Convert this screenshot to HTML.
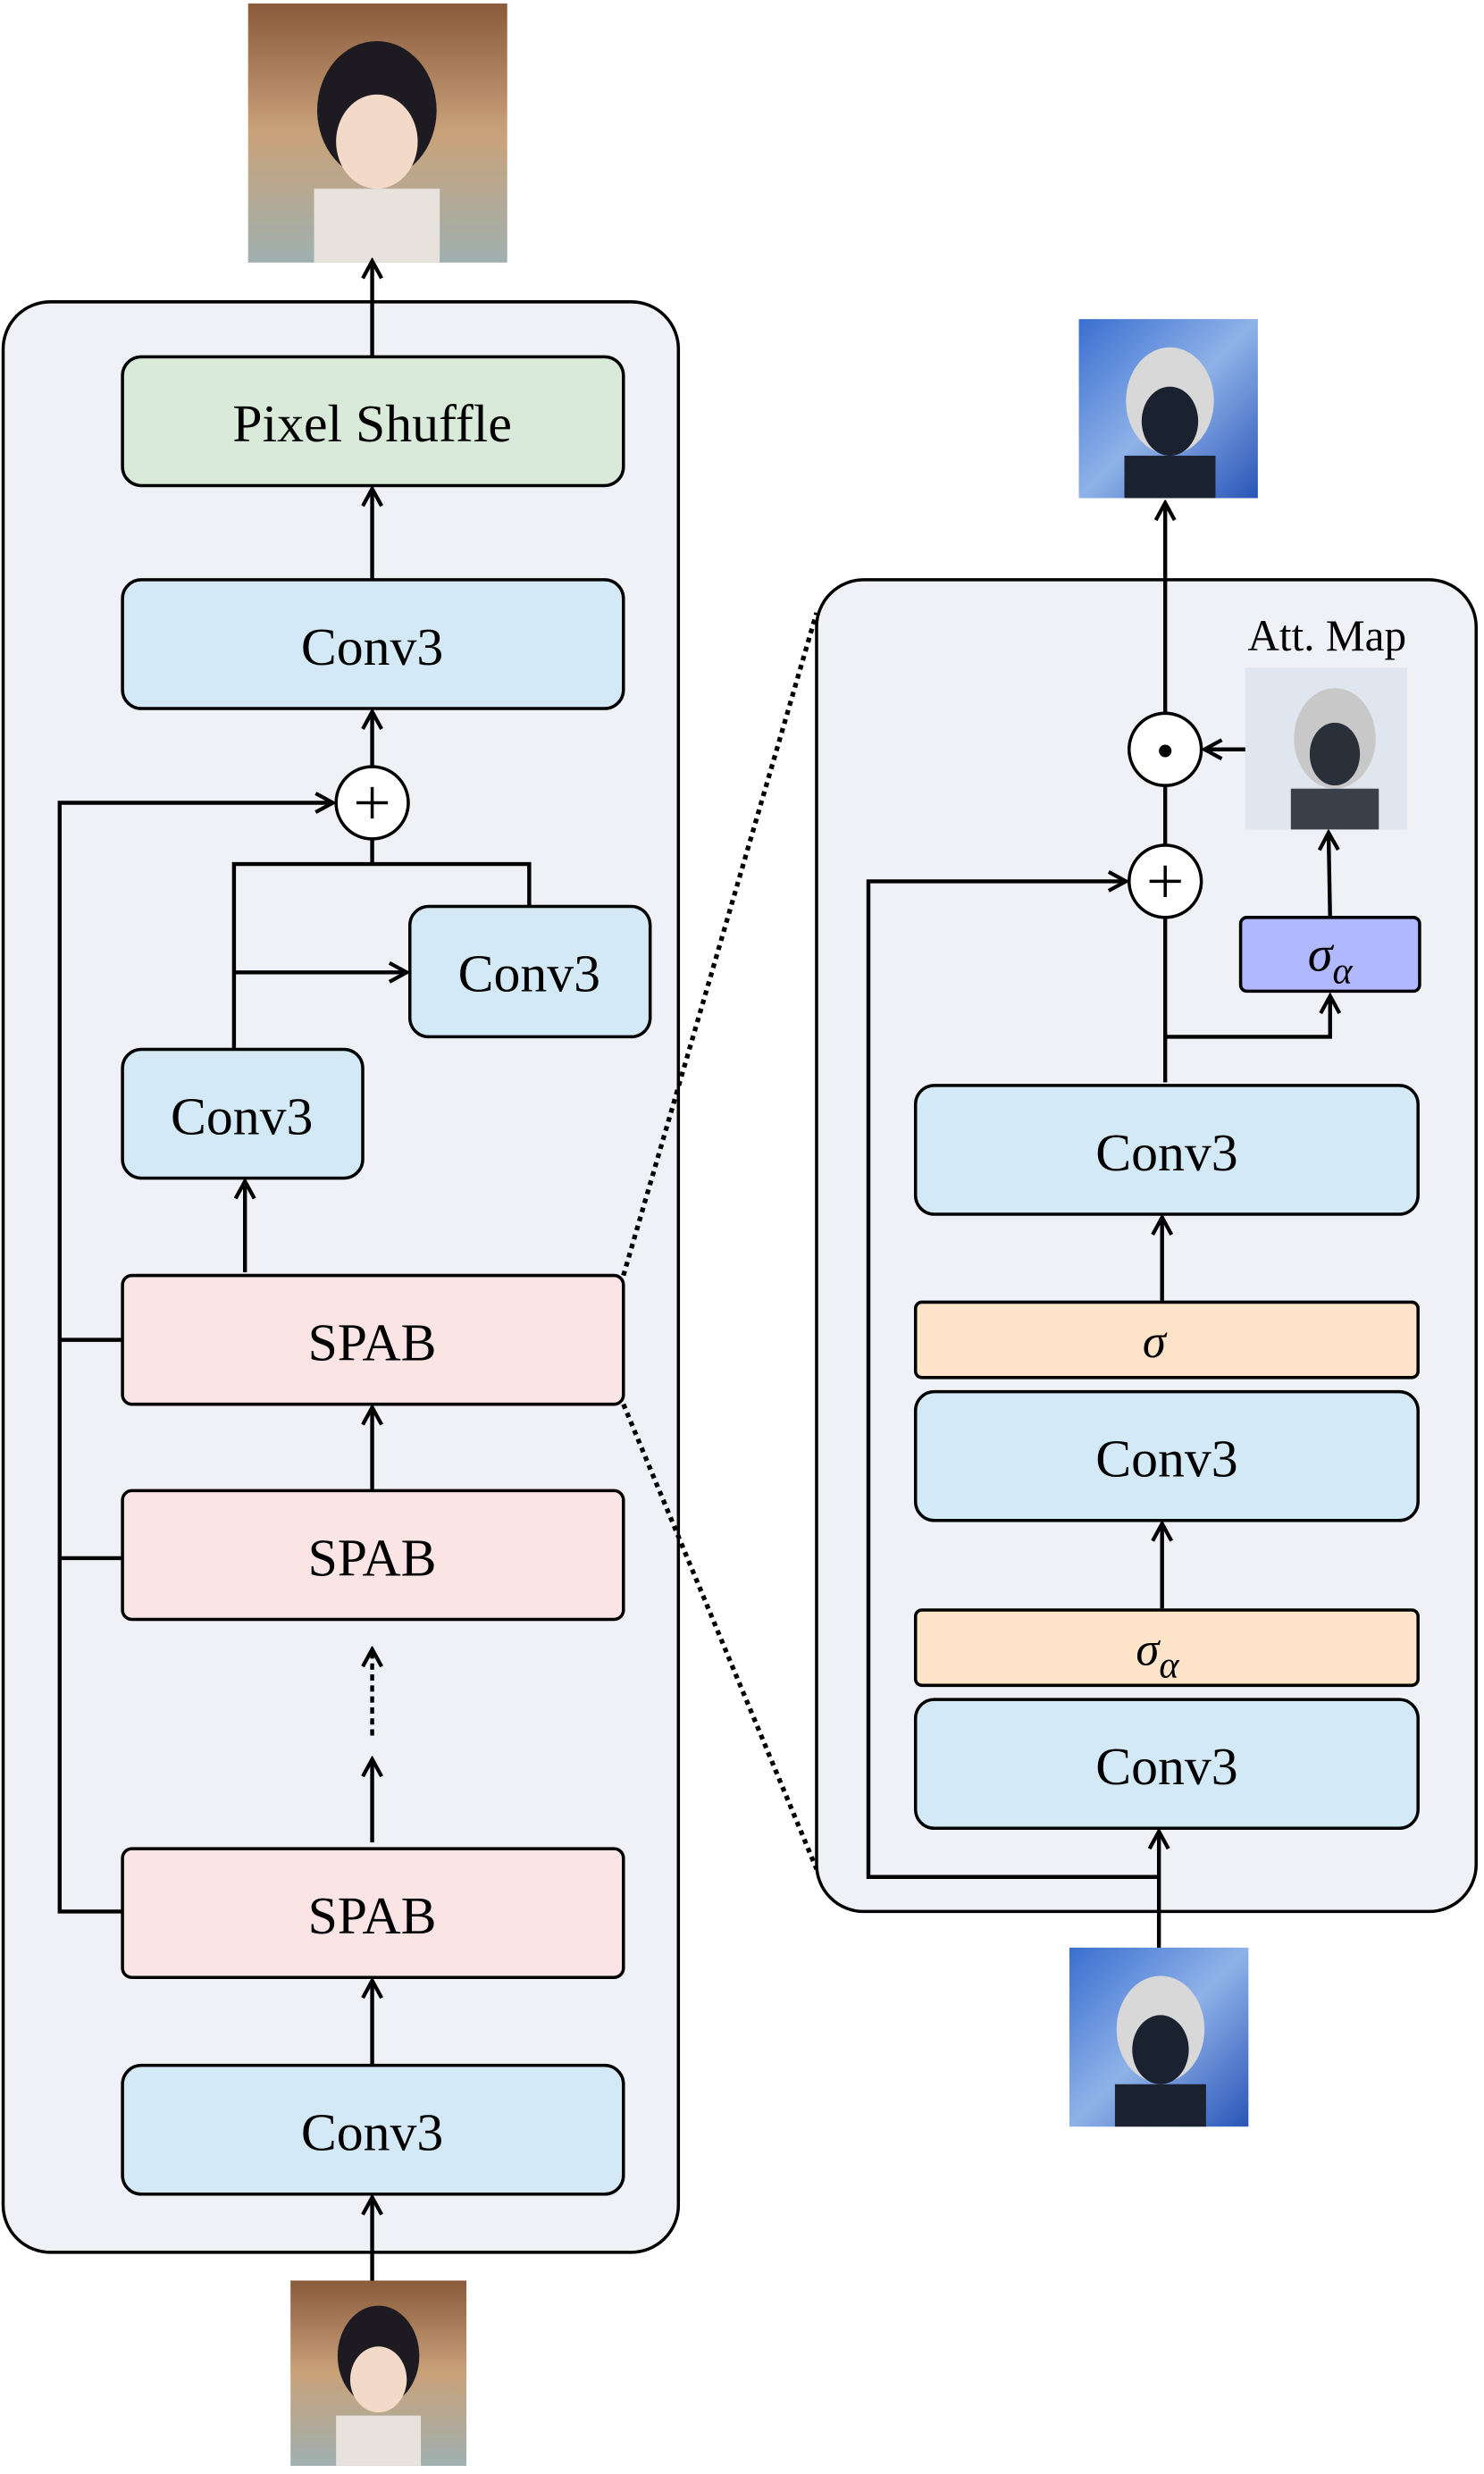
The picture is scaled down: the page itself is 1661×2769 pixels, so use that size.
<!DOCTYPE html>
<html><head><meta charset="utf-8"><style>
html,body{margin:0;padding:0;background:#fff;}
svg{display:block;}
text{font-family:"Liberation Serif",serif;fill:#000;}
</style></head><body>
<svg width="1661" height="2769" viewBox="0 0 945 1575" xmlns="http://www.w3.org/2000/svg">
<defs>
<marker id="ar" viewBox="0 0 14 14" refX="12" refY="7" markerWidth="14" markerHeight="14" markerUnits="userSpaceOnUse" orient="auto">
<path d="M1,1 L12,7 L1,13" fill="none" stroke="#000" stroke-width="2.4"/>
</marker>
<linearGradient id="warm" x1="0" y1="0" x2="0" y2="1">
<stop offset="0" stop-color="#8a5a3c"/><stop offset="0.5" stop-color="#c9a27a"/><stop offset="1" stop-color="#9fb0b0"/>
</linearGradient>
<linearGradient id="blue" x1="0" y1="0" x2="1" y2="1">
<stop offset="0" stop-color="#3a6fd0"/><stop offset="0.5" stop-color="#8fb2e8"/><stop offset="1" stop-color="#2a55b8"/>
</linearGradient>
</defs>

<rect x="2" y="192" width="430" height="1242" rx="30" fill="#f0f1f6" stroke="#000" stroke-width="2"/>

<g>
<rect x="158" y="2" width="165" height="165" fill="url(#warm)"/>
<ellipse cx="240" cy="70" rx="38" ry="44" fill="#1e1a22"/>
<ellipse cx="240" cy="90" rx="26" ry="30" fill="#f3d9c8"/>
<rect x="200" y="120" width="80" height="47" fill="#e8e2dc"/>
</g>
<g>
<rect x="185" y="1452" width="112" height="118" fill="url(#warm)"/>
<ellipse cx="241" cy="1500" rx="26" ry="32" fill="#1e1a22"/>
<ellipse cx="241" cy="1515" rx="18" ry="21" fill="#f3d9c8"/>
<rect x="214" y="1538" width="54" height="32" fill="#e8e2dc"/>
</g>

<g stroke="#000" stroke-width="2.5" fill="none">
<rect x="78" y="227" width="319" height="82" rx="12" fill="#d9ead9" stroke-width="2"/>
<rect x="78" y="369" width="319" height="82" rx="12" fill="#d3eaf6" stroke-width="2"/>
<rect x="261" y="577" width="153" height="83" rx="12" fill="#d3eaf6" stroke-width="2"/>
<rect x="78" y="668" width="153" height="82" rx="12" fill="#d3eaf6" stroke-width="2"/>
<rect x="78" y="812" width="319" height="82" rx="6" fill="#fae4e4" stroke-width="2"/>
<rect x="78" y="949" width="319" height="82" rx="6" fill="#fae4e4" stroke-width="2"/>
<rect x="78" y="1177" width="319" height="82" rx="6" fill="#fae4e4" stroke-width="2"/>
<rect x="78" y="1315" width="319" height="82" rx="12" fill="#d3eaf6" stroke-width="2"/>
<circle cx="237" cy="511" r="23" fill="#fff" stroke-width="2"/>
<path d="M227,511 H247 M237,501 V521" stroke-width="2"/>

<line x1="237" y1="227" x2="237" y2="166" marker-end="url(#ar)"/>
<line x1="237" y1="369" x2="237" y2="311" marker-end="url(#ar)"/>
<line x1="237" y1="488" x2="237" y2="453" marker-end="url(#ar)"/>
<polyline points="237,534 237,550"/>
<polyline points="149,668 149,550 337,550 337,577"/>
<line x1="149" y1="619" x2="259" y2="619" marker-end="url(#ar)"/>
<line x1="156" y1="810" x2="156" y2="752" marker-end="url(#ar)"/>
<line x1="237" y1="949" x2="237" y2="896" marker-end="url(#ar)"/>
<line x1="237" y1="1105" x2="237" y2="1050" stroke-dasharray="4,3" marker-end="url(#ar)"/>
<line x1="237" y1="1173" x2="237" y2="1120" marker-end="url(#ar)"/>
<line x1="237" y1="1315" x2="237" y2="1261" marker-end="url(#ar)"/>
<line x1="237" y1="1452" x2="237" y2="1399" marker-end="url(#ar)"/>
<polyline points="78,1217 38,1217 38,511 212,511" marker-end="url(#ar)"/>
<line x1="38" y1="853" x2="78" y2="853"/>
<line x1="38" y1="992" x2="78" y2="992"/>

<line x1="397" y1="812" x2="520" y2="390" stroke-width="3" stroke-dasharray="3,3"/>
<line x1="397" y1="894" x2="520" y2="1190" stroke-width="3" stroke-dasharray="3,3"/>
</g>

<text x="237" y="281" font-size="34" text-anchor="middle">Pixel Shuffle</text>
<text x="237" y="423" font-size="34" text-anchor="middle">Conv3</text>
<text x="337" y="631" font-size="34" text-anchor="middle">Conv3</text>
<text x="154" y="722" font-size="34" text-anchor="middle">Conv3</text>
<text x="237" y="866" font-size="34" text-anchor="middle">SPAB</text>
<text x="237" y="1003" font-size="34" text-anchor="middle">SPAB</text>
<text x="237" y="1231" font-size="34" text-anchor="middle">SPAB</text>
<text x="237" y="1369" font-size="34" text-anchor="middle">Conv3</text>

<rect x="520" y="369" width="420" height="848" rx="30" fill="#f0f1f6" stroke="#000" stroke-width="2"/>

<g>
<rect x="687" y="203" width="114" height="114" fill="url(#blue)"/>
<ellipse cx="745" cy="255" rx="28" ry="34" fill="#d8d8d8"/>
<ellipse cx="745" cy="268" rx="18" ry="22" fill="#1a2230"/>
<rect x="716" y="290" width="58" height="27" fill="#1a2230"/>
</g>
<g>
<rect x="681" y="1240" width="114" height="114" fill="url(#blue)"/>
<ellipse cx="739" cy="1292" rx="28" ry="34" fill="#d8d8d8"/>
<ellipse cx="739" cy="1305" rx="18" ry="22" fill="#1a2230"/>
<rect x="710" y="1327" width="58" height="27" fill="#1a2230"/>
</g>
<g>
<rect x="793" y="425" width="103" height="103" fill="#dfe6ef"/>
<ellipse cx="850" cy="470" rx="26" ry="32" fill="#c8c8c8"/>
<ellipse cx="850" cy="480" rx="16" ry="20" fill="#2a303a"/>
<rect x="822" y="502" width="56" height="26" fill="#3a404a"/>
</g>
<text x="845" y="414" font-size="28" text-anchor="middle">Att. Map</text>

<g stroke="#000" stroke-width="2.5" fill="none">
<rect x="790" y="584" width="114" height="47" rx="4" fill="#b0b8ff" stroke-width="2"/>
<rect x="583" y="691" width="320" height="82" rx="12" fill="#d3eaf6" stroke-width="2"/>
<rect x="583" y="829" width="320" height="48" rx="4" fill="#fde3c8" stroke-width="2"/>
<rect x="583" y="886" width="320" height="82" rx="12" fill="#d3eaf6" stroke-width="2"/>
<rect x="583" y="1025" width="320" height="48" rx="4" fill="#fde3c8" stroke-width="2"/>
<rect x="583" y="1082" width="320" height="82" rx="12" fill="#d3eaf6" stroke-width="2"/>
<circle cx="742" cy="477" r="23" fill="#fff" stroke-width="2"/>
<circle cx="742" cy="561" r="23" fill="#fff" stroke-width="2"/>
<path d="M732,561 H752 M742,551 V571" stroke-width="2"/>

<line x1="742" y1="454" x2="742" y2="320" marker-end="url(#ar)"/>
<line x1="742" y1="538" x2="742" y2="500"/>
<line x1="742" y1="689" x2="742" y2="584"/>
<polyline points="742,660 847,660 847,634" marker-end="url(#ar)"/>
<line x1="847" y1="584" x2="846" y2="530" marker-end="url(#ar)"/>
<line x1="793" y1="477" x2="767" y2="477" marker-end="url(#ar)"/>
<line x1="740" y1="828" x2="740" y2="775" marker-end="url(#ar)"/>
<line x1="740" y1="1024" x2="740" y2="970" marker-end="url(#ar)"/>
<line x1="738" y1="1240" x2="738" y2="1166" marker-end="url(#ar)"/>
<polyline points="738,1195 553,1195 553,561 717,561" marker-end="url(#ar)"/>
</g>
<circle cx="742" cy="478" r="4" fill="#000"/>

<text x="847" y="618" font-size="32" text-anchor="middle" font-style="italic">σ<tspan font-size="24" dy="8">α</tspan></text>
<text x="743" y="745" font-size="34" text-anchor="middle">Conv3</text>
<text x="735" y="864" font-size="30" text-anchor="middle" font-style="italic">σ</text>
<text x="743" y="940" font-size="34" text-anchor="middle">Conv3</text>
<text x="737" y="1060" font-size="30" text-anchor="middle" font-style="italic">σ<tspan font-size="24" dy="8">α</tspan></text>
<text x="743" y="1136" font-size="34" text-anchor="middle">Conv3</text>
</svg>
</body></html>
